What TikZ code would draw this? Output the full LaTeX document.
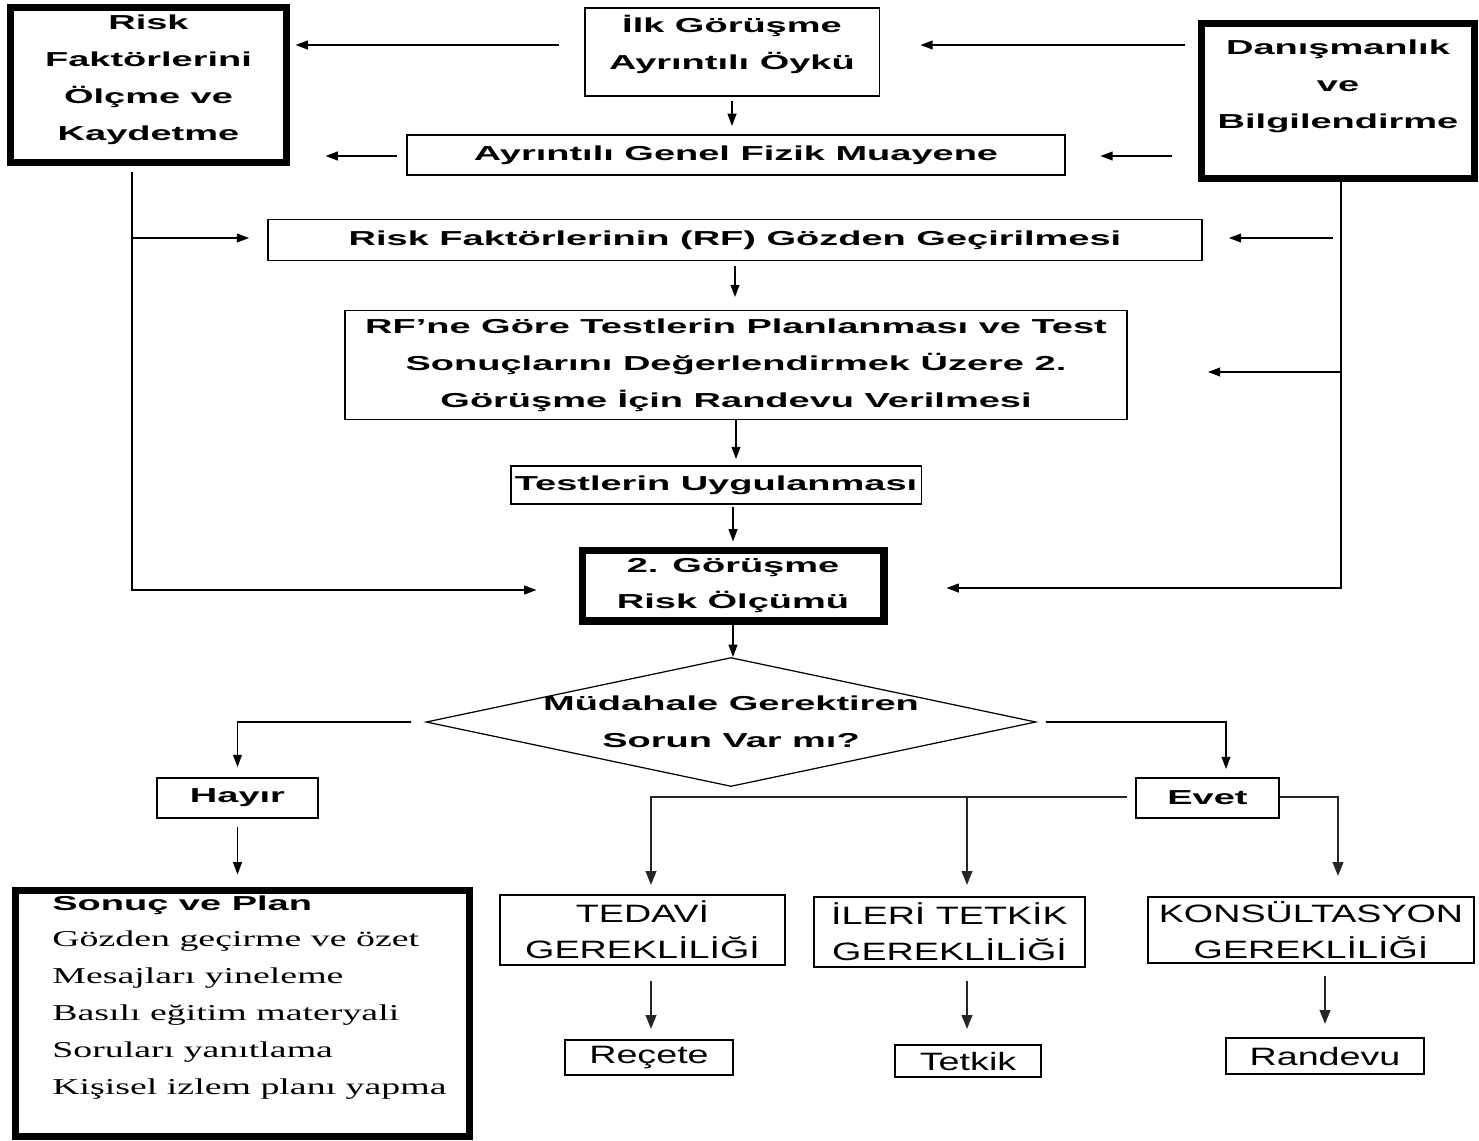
\documentclass[tikz,border=0pt]{standalone}
\usepackage{fontspec}
\usetikzlibrary{arrows.meta,shapes.geometric}
\newfontfamily\bsf[FakeStretch=1.88]{Liberation Sans}
\newfontfamily\rsf[FakeStretch=1.5]{Liberation Sans}
\newfontfamily\srf[FakeStretch=1.67]{Liberation Serif}
\newcommand{\bfont}{\bsf\bfseries\fontsize{11.5}{21}\selectfont}
\newcommand{\rfont}{\rsf\fontsize{14.3}{20.5}\selectfont}
\newcommand{\sfont}{\srf\fontsize{12.9}{21}\selectfont}

\begin{document}
\begin{tikzpicture}[x=0.02cm,y=-0.02cm,
  box/.style={draw,line width=1.1pt,inner sep=0pt,align=center,font=\bfont},
  heavy/.style={box,line width=4pt},
  capbox/.style={draw,line width=1.1pt,inner sep=0pt,align=center,font=\rfont},
  arr/.style={-{Triangle[length=7pt,width=5pt]},line width=0.9pt},
  arrb/.style={-{Triangle[length=8pt,width=6pt]},line width=1.4pt,black!85}]
\useasboundingbox (0,0) rectangle (1479,1140);
\node[heavy,minimum width=5.52cm,minimum height=3.1cm] (olc) at (148.5,85) {};
\node[box,draw=none] (olctxt) at (148.5,80) {Risk\\Faktörlerini\\Ölçme ve\\Kaydetme};
\node[box,minimum width=5.9cm,minimum height=1.76cm] (ilk) at (732,52) {};
\node[box,draw=none] (ilktxt) at (732,44) {İlk Görüşme\\Ayrıntılı Öykü};
\node[heavy,minimum width=5.46cm,minimum height=3.1cm] (dan) at (1338,101) {};
\node[box,draw=none] (dantxt) at (1338,86) {Danışmanlık\\ve\\Bilgilendirme};
\node[box,minimum width=13.18cm,minimum height=0.8cm] (fiz) at (736,155) {Ayrıntılı Genel Fizik Muayene};
\node[box,minimum width=18.7cm,minimum height=0.82cm] (rfg) at (735,240) {Risk Faktörlerinin (RF) Gözden Geçirilmesi};
\node[box,minimum width=15.64cm,minimum height=2.18cm] (pl2) at (736,365) {RF’ne Göre Testlerin Planlanması ve Test\\Sonuçlarını Değerlendirmek Üzere 2.\\Görüşme İçin Randevu Verilmesi};
\node[box,minimum width=8.22cm,minimum height=0.76cm] (tst) at (716,485) {Testlerin Uygulanması};
\node[heavy,minimum width=6.04cm,minimum height=1.42cm] (gr2) at (733,585.5) {2. Görüşme\\Risk Ölçümü};
\node[diamond,draw,line width=0.7pt,aspect=4.73,inner sep=-3pt,minimum width=12.2cm,minimum height=2.58cm,align=center,font=\bfont] (mud) at (731,722) {Müdahale Gerektiren\\Sorun Var mı?};
\node[box,minimum width=3.22cm,minimum height=0.8cm] (hay) at (237.5,798) {Hayır};
\node[box,minimum width=2.86cm,minimum height=0.8cm] (evt) at (1207.5,798) {Evet};
\node[heavy,minimum width=9.08cm,minimum height=4.92cm] (plan) at (242.5,1013.5) {};
\node[anchor=north west,align=left,inner sep=0pt,font=\sfont] (plantxt) at (52,895) {{\bfont Sonuç ve Plan}\\Gözden geçirme ve özet\\Mesajları yineleme\\Basılı eğitim materyali\\Soruları yanıtlama\\Kişisel izlem planı yapma};
\node[capbox,minimum width=5.7cm,minimum height=1.4cm] (ted) at (642.5,930) {TEDAVİ\\GEREKLİLİĞİ};
\node[capbox,minimum width=5.42cm,minimum height=1.4cm] (ile) at (949.5,932) {İLERİ TETKİK\\GEREKLİLİĞİ};
\node[capbox,minimum width=6.52cm,minimum height=1.32cm] (kon) at (1311,930) {KONSÜLTASYON\\GEREKLİLİĞİ};
\node[capbox,minimum width=3.36cm,minimum height=0.7cm] (rec) at (649,1057.5) {Reçete};
\node[capbox,minimum width=2.92cm,minimum height=0.64cm] (tet) at (968,1061) {Tetkik};
\node[capbox,minimum width=3.96cm,minimum height=0.72cm] (ran) at (1325,1056) {Randevu};
\coordinate (ltr) at (132,590);
\coordinate (rtr) at (1341,588);
\coordinate (ycor) at (1226,720);
\coordinate (ta) at (651,797);
\coordinate (tb) at (967,797);
\coordinate (tc) at (1338,797);
\coordinate (r1) at (0,45);
\coordinate (r2) at (0,156);
\coordinate (r3) at (0,238);
\coordinate (r4) at (0,372);
\draw[arr,shorten <=0.5cm,shorten >=0.11cm] (ilk.west |- r1) -- (olc.east |- r1);
\draw[arr,shorten <=0.27cm,shorten >=0.8cm] (dan.west |- r1) -- (ilk.east |- r1);
\draw[arr,shorten <=0.08cm,shorten >=0.16cm] (ilk.south) -- (ilk.south |- fiz.north);
\draw[arr,shorten <=0.18cm,shorten >=0.71cm] (fiz.west |- r2) -- (olc.east |- r2);
\draw[arr,shorten <=0.53cm,shorten >=0.68cm] (dan.west |- r2) -- (fiz.east |- r2);
\draw[arr,shorten <=0.11cm,shorten >=0.84cm] (olc.south -| ltr) -- (ltr) -- (gr2.west |- ltr);
\draw[arr,shorten >=0.35cm] (ltr |- r3) -- (rfg.west |- r3);
\draw[arr,shorten >=1.18cm] (dan.south -| rtr) -- (rtr) -- (gr2.east |- rtr);
\draw[arr,shorten <=0.16cm,shorten >=0.51cm] (rtr |- r3) -- (rfg.east |- r3);
\draw[arr,shorten >=1.6cm] (rtr |- r4) -- (pl2.east |- r4);
\draw[arr,shorten <=0.09cm,shorten >=0.25cm] (rfg.south) -- (rfg.south |- pl2.north);
\draw[arr,shorten >=0.12cm] (pl2.south) -- (pl2.south |- tst.north);
\draw[arr,shorten <=0.04cm,shorten >=0.1cm] (gr2.north |- tst.south) -- (gr2.north);
\draw[arr] (gr2.south) -- (gr2.south |- mud.north);
\draw[arr,shorten <=0.28cm,shorten >=0.2cm] (mud.west) -- (mud.west -| hay.north) -- (hay.north);
\draw[arr,shorten <=0.16cm,shorten >=0.25cm] (hay.south) -- (hay.south |- plan.north);
\draw[arr,shorten <=0.18cm,shorten >=0.16cm] (mud.east) -- (mud.east -| ycor) -- (ycor |- evt.north);
\draw[arrb,shorten <=0.16cm,shorten >=0.18cm] (evt.west |- ta) -- (ta) -- (ta |- ted.north);
\draw[arrb,shorten >=0.22cm] (tb) -- (tb |- ile.north);
\draw[arrb,shorten >=0.4cm] (evt.east |- tc) -- (tc) -- (tc |- kon.north);
\draw[arrb,shorten <=0.3cm,shorten >=0.2cm] (ta |- ted.south) -- (ta |- rec.north);
\draw[arrb,shorten <=0.26cm,shorten >=0.3cm] (tb |- ile.south) -- (tb |- tet.north);
\draw[arrb,shorten <=0.24cm,shorten >=0.26cm] (ran.north |- kon.south) -- (ran.north);
\end{tikzpicture}
\end{document}
